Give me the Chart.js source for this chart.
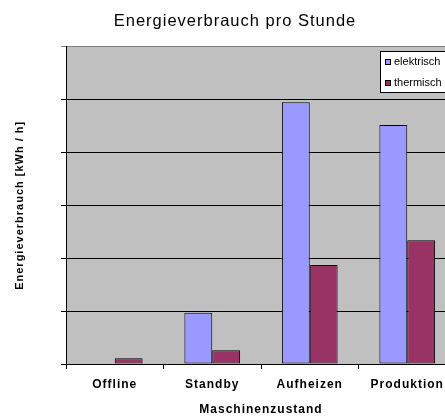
<!DOCTYPE html>
<html>
<head>
<meta charset="utf-8">
<script src="https://cdn.jsdelivr.net/npm/chart.js@4/dist/chart.umd.min.js"></script>
<style>
html,body{margin:0;padding:0;background:#fff;overflow:hidden;}
#wrap{position:absolute;left:0;top:0;width:470px;height:417px;}
</style>
</head>
<body>
<div id="wrap"><canvas id="c" width="470" height="417"></canvas></div>
<script>
const categories = ['Offline', 'Standby', 'Aufheizen', 'Produktion'];
const elektrisch = [0, 0.97, 4.95, 4.52];
const thermisch = [0.11, 0.26, 1.87, 2.34];
const seriesNames = ['elektrisch', 'thermisch'];
const seriesColors = ['#9999FF', '#993366'];
const chartTitle = 'Energieverbrauch pro Stunde';
const xTitle = 'Maschinenzustand';
const yTitle = 'Energieverbrauch [kWh / h]';

const FONT = "'Liberation Sans', Arial, sans-serif";

const plotBg = {
  id: 'plotBg',
  beforeDraw(chart) {
    chart.ctx.letterSpacing = '1px';
    const {ctx, chartArea: a} = chart;
    ctx.save();
    ctx.fillStyle = '#C0C0C0';
    ctx.fillRect(a.left, a.top, a.right - a.left, a.bottom - a.top);
    ctx.restore();
  },
  afterDraw(chart) {
    const {ctx} = chart;
    ctx.save();
    ctx.letterSpacing = '0px';
    const x = 380, y = 51, w = 72, h = 41;
    ctx.fillStyle = '#fff';
    ctx.fillRect(x, y, w, h);
    ctx.strokeStyle = '#000';
    ctx.lineWidth = 1;
    ctx.strokeRect(x + 0.5, y + 0.5, w, h);
    ctx.font = '11px ' + FONT;
    ctx.textBaseline = 'middle';
    chart.data.datasets.forEach((ds, i) => {
      const cy = 62 + i * 21;
      ctx.fillStyle = ds.backgroundColor;
      ctx.fillRect(385, cy - 3, 6, 6);
      ctx.strokeStyle = '#000';
      ctx.strokeRect(385.5, cy - 2.5, 5, 5);
      ctx.fillStyle = '#000';
      ctx.fillText(ds.label, 394, cy);
    });
    ctx.restore();
  }
};

new Chart(document.getElementById('c'), {
  type: 'bar',
  data: {
    labels: categories,
    datasets: [
      {label: seriesNames[0], data: elektrisch, backgroundColor: seriesColors[0], borderColor: '#000', borderWidth: 1, borderSkipped: false},
      {label: seriesNames[1], data: thermisch, backgroundColor: seriesColors[1], borderColor: '#000', borderWidth: 1, borderSkipped: false}
    ]
  },
  options: {
    responsive: false,
    animation: false,
    devicePixelRatio: 1,
    layout: {padding: 0},
    datasets: {bar: {categoryPercentage: 2 / 3.5, barPercentage: 1}},
    plugins: {
      legend: {display: false},
      tooltip: {enabled: false},
      title: {
        display: true,
        text: chartTitle,
        color: '#000',
        font: {family: FONT, size: 16.5, weight: 'normal'},
        padding: {top: 12, bottom: 14.8}
      }
    },
    scales: {
      x: {
        grid: {display: true, drawOnChartArea: false, offset: true, tickLength: 5, color: '#000'},
        border: {display: true, color: '#000'},
        ticks: {color: '#000', font: {family: FONT, size: 12, weight: 'bold'}, padding: 8, maxRotation: 0},
        title: {display: true, text: xTitle, color: '#000', font: {family: FONT, size: 12, weight: 'bold'}, padding: {top: 0, bottom: 0}},
        afterFit(s) { s.height = 53; }
      },
      y: {
        min: 0, max: 6,
        ticks: {display: false, stepSize: 1},
        grid: {color: (c) => c.tick && c.tick.value === 6 ? '#808080' : '#000', tickLength: 5, lineWidth: 1},
        border: {display: true, color: '#000'},
        title: {display: true, text: yTitle, color: '#000', font: {family: FONT, size: 11, weight: 'bold'}, padding: {top: 13.4, bottom: 0}},
        afterFit(s) { s.width = 66; }
      },
      yRight: {
        type: 'linear',
        position: 'right',
        display: true,
        ticks: {display: false},
        grid: {display: false, drawTicks: false},
        border: {display: false},
        afterFit(s) { s.width = 14; }
      }
    }
  },
  plugins: [plotBg]
});
</script>
</body>
</html>
